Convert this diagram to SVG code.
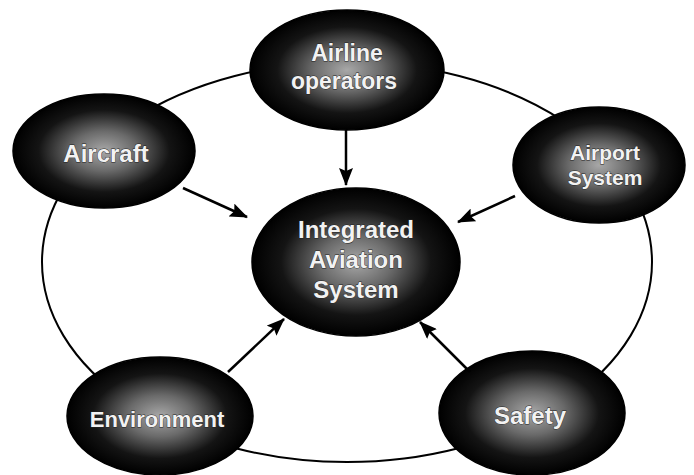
<svg xmlns="http://www.w3.org/2000/svg" width="694" height="475" viewBox="0 0 694 475">
<defs>
<radialGradient id="g" cx="0.5" cy="0.5" r="0.5">
<stop offset="0" stop-color="#a8a8a8"/>
<stop offset="0.35" stop-color="#6a6a6a"/>
<stop offset="0.72" stop-color="#141414"/>
<stop offset="1" stop-color="#000"/>
</radialGradient>
<marker id="ah" markerUnits="userSpaceOnUse" markerWidth="18" markerHeight="14" refX="17" refY="7" orient="auto">
<path d="M0,0 L18,7 L0,14 L3,7 Z" fill="#000"/>
</marker>
<style>
.node{fill:url(#g);stroke:#000;stroke-width:1.5}
.lbl{font-family:"Liberation Sans",Arial,sans-serif;font-weight:bold;fill:#f2f2f2;stroke:#222;stroke-width:0.8;paint-order:stroke;text-anchor:middle}
.con{stroke:#000;stroke-width:2.5;fill:none;marker-end:url(#ah)}
</style>
</defs>
<rect width="694" height="475" fill="#fff"/>
<ellipse id="ring" cx="347" cy="262" rx="305" ry="200" fill="none" stroke="#000" stroke-width="2"/>
<g id="airline">
<ellipse class="node" cx="347" cy="70" rx="97" ry="60"/>
<text class="lbl" x="347" y="61" font-size="23">Airline</text>
<text class="lbl" x="344" y="89" font-size="23">operators</text>
</g>
<g id="aircraft">
<ellipse class="node" cx="104" cy="151" rx="91" ry="57"/>
<text class="lbl" x="106" y="162" font-size="24">Aircraft</text>
</g>
<g id="airport">
<ellipse class="node" cx="599" cy="165" rx="86" ry="58"/>
<text class="lbl" x="605" y="160" font-size="21">Airport</text>
<text class="lbl" x="605" y="185" font-size="21">System</text>
</g>
<g id="center">
<ellipse class="node" cx="356" cy="262" rx="104" ry="74"/>
<text class="lbl" x="356" y="238" font-size="24">Integrated</text>
<text class="lbl" x="356" y="268" font-size="24">Aviation</text>
<text class="lbl" x="356" y="298" font-size="24">System</text>
</g>
<g id="environment">
<ellipse class="node" cx="160" cy="416" rx="93" ry="59"/>
<text class="lbl" x="157" y="427" font-size="22">Environment</text>
</g>
<g id="safety">
<ellipse class="node" cx="532" cy="413" rx="93" ry="62"/>
<text class="lbl" x="530" y="424" font-size="24">Safety</text>
</g>
<g id="connectors">
<line class="con" x1="346" y1="130" x2="346" y2="185"/>
<line class="con" x1="183" y1="188" x2="247" y2="217"/>
<line class="con" x1="515" y1="196" x2="458" y2="222"/>
<line class="con" x1="228" y1="372" x2="284" y2="319"/>
<line class="con" x1="470" y1="372" x2="420" y2="322"/>
</g>
</svg>
